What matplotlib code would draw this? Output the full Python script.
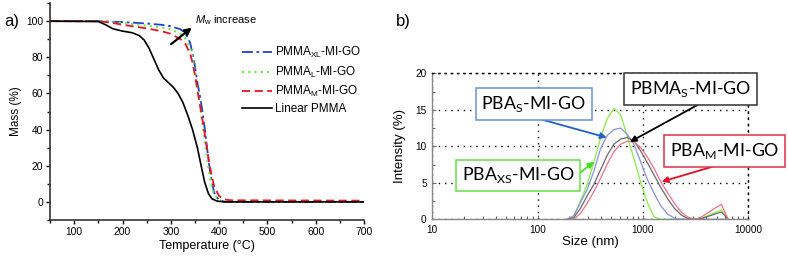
import matplotlib
matplotlib.use("Agg")
import matplotlib.pyplot as plt
from matplotlib.ticker import MultipleLocator, LogLocator, NullFormatter

plt.rcParams['font.family'] = ['Liberation Sans', 'DejaVu Sans']
plt.rcParams['mathtext.fontset'] = 'custom'
plt.rcParams['mathtext.rm'] = 'Liberation Sans'
plt.rcParams['mathtext.it'] = 'Liberation Sans:italic'

# ---------------- Panel a: TGA ----------------
temp_xl = [50, 150, 200, 250, 280, 300, 320, 330, 340, 345, 350, 355, 360, 365, 370, 375, 380, 385, 390, 395, 400, 410, 420, 700]
mass_xl = [100, 100, 99.5, 98.7, 98, 97.2, 95.5, 93.5, 88, 82, 75, 66, 59, 51, 41, 30, 19, 11, 5, 2.5, 1.2, 0.2, 0, 0]

temp_l = [50, 150, 200, 250, 280, 300, 320, 330, 340, 345, 350, 355, 360, 365, 370, 375, 380, 385, 390, 400, 410, 420, 700]
mass_l = [100, 100, 99, 97.5, 96.5, 95.5, 93, 90.5, 85, 80, 72, 63, 54, 44, 34, 24, 15, 8, 4, 1, 0.3, 0.2, 0.2]

temp_m = [50, 150, 180, 200, 250, 280, 300, 320, 330, 340, 345, 350, 355, 360, 365, 370, 375, 380, 385, 390, 400, 410, 420, 430, 700]
mass_m = [100, 100, 99, 98, 96, 94.5, 93, 90, 87.5, 82, 77, 70, 62, 54, 46, 38, 29, 21, 14, 8.5, 3.2, 1.5, 1, 0.9, 0.7]

temp_lin = [50, 150, 165, 180, 200, 220, 235, 245, 255, 265, 275, 285, 295, 305, 315, 325, 335, 345, 355, 362, 370, 378, 385, 395, 410, 700]
mass_lin = [100, 99.8, 98, 95.8, 94.5, 93.6, 92, 89.5, 85, 79, 73, 68.5, 66, 63.5, 60, 55, 48, 40, 30, 21, 11, 4.5, 1.8, 0.5, 0, 0]

tga_labels = [r'PMMA$_{\mathregular{XL}}$-MI-GO', r'PMMA$_{\mathregular{L}}$-MI-GO',
              r'PMMA$_{\mathregular{M}}$-MI-GO', 'Linear PMMA']

# ---------------- Panel b: DLS ----------------
sizes = [190.1, 220.2, 255.0, 295.3, 342.0, 396.1, 458.7, 531.2, 615.1, 712.4, 825.0, 955.4,
         1106, 1281, 1484, 1718, 1990, 2305, 2669, 3091, 3580, 4145, 4801, 5560, 6439]
int_xs = [0, 0.3, 2.5, 4.8, 7.8, 11.2, 13.8, 15.2, 14.3, 11.3, 8.2, 5.0,
          2.2, 0.3, 0, 0, 0, 0, 0, 0, 0.1, 0.5, 0.9, 1.3, 0]
int_s = [0, 0.5, 2.3, 4.1, 6.6, 9.7, 11.5, 12.3, 12.5, 11.6, 10.2, 7.8,
         5.4, 3.5, 1.8, 0.7, 0.15, 0, 0, 0, 0, 0, 0, 0, 0]
int_pbma = [0, 0.2, 1.5, 3.2, 4.8, 6.8, 8.8, 10.3, 11.0, 11.2, 10.7, 9.3,
            7.7, 6.0, 4.3, 2.8, 1.5, 0.6, 0.1, 0, 0.1, 0.4, 0.7, 1.0, 0]
int_m = [0, 0, 0.8, 2.2, 3.8, 5.6, 7.6, 9.3, 10.3, 10.7, 10.6, 9.8,
         8.5, 6.9, 5.1, 3.6, 2.2, 1.0, 0.3, 0, 0.3, 0.9, 1.5, 2.05, 0]

fig = plt.figure(figsize=(7.88, 2.57), dpi=100)

# ---- Panel a ----
ax1 = fig.add_axes([0.0635, 0.144, 0.3985, 0.844])
ax1.plot(temp_xl, mass_xl, color='#2040d0', lw=1.3, ls=(0, (6, 2, 1.5, 2)), label=tga_labels[0])
ax1.plot(temp_l, mass_l, color='#66ee44', lw=1.5, ls=(0, (1, 2)), label=tga_labels[1])
ax1.plot(temp_m, mass_m, color='#ee1122', lw=1.3, ls=(0, (4.5, 2.5)), label=tga_labels[2])
ax1.plot(temp_lin, mass_lin, color='black', lw=1.2, label=tga_labels[3])
ax1.set_xlim(50, 700)
ax1.set_ylim(-10, 110)
ax1.set_xticks([100, 200, 300, 400, 500, 600, 700])
ax1.set_yticks([0, 20, 40, 60, 80, 100])
ax1.xaxis.set_minor_locator(MultipleLocator(50))
ax1.yaxis.set_minor_locator(MultipleLocator(10))
for s in ['top', 'right']:
    ax1.spines[s].set_visible(False)
for s in ['left', 'bottom']:
    ax1.spines[s].set_linewidth(1.2)
    ax1.spines[s].set_color('#333333')
ax1.tick_params(which='major', direction='out', length=3, width=1, labelsize=7.4, pad=2)
ax1.tick_params(which='minor', direction='out', length=2, width=1)
ax1.set_xlabel('Temperature (°C)', fontsize=9, labelpad=2)
ax1.set_ylabel('Mass (%)', fontsize=8.5, labelpad=3)
ax1.legend(loc='upper left', bbox_to_anchor=(0.61, 0.805), frameon=False, fontsize=8.5,
           handlelength=2.6, handletextpad=0.2, labelspacing=0.36, borderpad=0, borderaxespad=0)
ax1.annotate('', xy=(348, 97.4), xytext=(296, 86.3),
             arrowprops=dict(arrowstyle='-|>', color='black', lw=1.6, mutation_scale=10))
ax1.text(351, 100.5, r'$\mathit{M}_{\mathregular{w}}$ increase', fontsize=8, va='center', ha='left')

fig.text(0.006, 0.916, 'a)', fontsize=12, ha='left', va='center')
fig.text(0.503, 0.916, 'b)', fontsize=12, ha='left', va='center')

# ---- Panel b ----
ax2 = fig.add_axes([0.5486, 0.1467, 0.401, 0.5681])
ax2.plot(sizes, int_xs, color='#88ee44', lw=0.9)
ax2.plot(sizes, int_s, color='#8892e0', lw=0.9)
ax2.plot(sizes, int_pbma, color='#6a6a6a', lw=0.9)
ax2.plot(sizes, int_m, color='#f07088', lw=0.9)
ax2.set_xscale('log')
ax2.set_xlim(10, 10000)
ax2.set_ylim(0, 20)
ax2.set_yticks([0, 5, 10, 15, 20])
ax2.yaxis.set_minor_locator(MultipleLocator(2.5))
ax2.xaxis.set_minor_locator(LogLocator(base=10, subs=range(2, 10)))
ax2.xaxis.set_minor_formatter(NullFormatter())
ax2.set_xticks([10, 100, 1000, 10000])
ax2.set_xticklabels(['10', '100', '1000', '10000'])
ax2.grid(True, which='major', ls=(0, (1, 3.5)), color='black', lw=1.0)
for s in ['top', 'right']:
    ax2.spines[s].set_linestyle((0, (1, 3.5)))
    ax2.spines[s].set_color('black')
    ax2.spines[s].set_linewidth(1.0)
for s in ['left', 'bottom']:
    ax2.spines[s].set_color('#888888')
    ax2.spines[s].set_linewidth(1.0)
ax2.tick_params(which='major', direction='in', length=3, width=0.8, color='#666666', labelsize=7.2, pad=4)
ax2.tick_params(which='minor', direction='in', length=2, width=0.8, color='#666666')
ax2.set_xlabel('Size (nm)', fontsize=9.5, labelpad=1)
ax2.set_ylabel('Intensity (%)', fontsize=9.5, labelpad=7)

box_font = ['Lato', 'DejaVu Sans']
boxes = [
    (r'PBA$_{\mathregular{S}}$-MI-GO', (0.321, 0.792), '#6a90e0', (0.320, 0.699), (453, 11.2), '#2060c8'),
    (r'PBMA$_{\mathregular{S}}$-MI-GO', (0.818, 0.891), '#333333', (0.858, 0.805), (753, 10.6), 'black'),
    (r'PBA$_{\mathregular{M}}$-MI-GO', (0.926, 0.469), '#e03048', (0.905, 0.372), (1507, 5.15), '#e01020'),
    (r'PBA$_{\mathregular{XS}}$-MI-GO', (0.272, 0.300), '#66e044', (0.452, 0.292), (344, 7.9), '#44dd22'),
]
for txt, pos, ec, tail, tip, ac in boxes:
    ax2.annotate('', xy=tip, xycoords='data', xytext=tail, textcoords='axes fraction',
                 arrowprops=dict(arrowstyle='-|>', color=ac, lw=1.3, mutation_scale=9,
                                 shrinkA=0, shrinkB=0), zorder=5)
    ax2.text(pos[0], pos[1], txt, transform=ax2.transAxes, ha='center', va='center',
             fontsize=12.8, family=box_font, zorder=6, clip_on=False,
             bbox=dict(boxstyle='square,pad=0.33', fc='white', ec=ec, lw=1.1))

fig.savefig('out.png', dpi=100)
